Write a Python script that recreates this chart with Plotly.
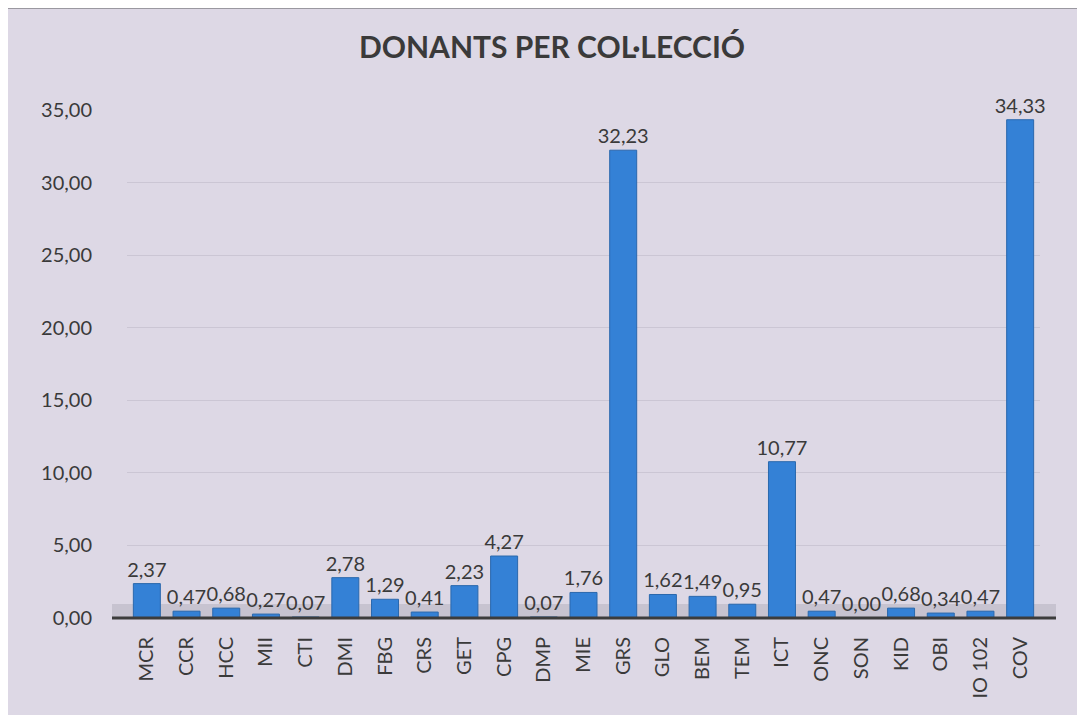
import plotly.graph_objects as go

categories = ["MCR", "CCR", "HCC", "MII", "CTI", "DMI", "FBG", "CRS", "GET", "CPG",
              "DMP", "MIE", "GRS", "GLO", "BEM", "TEM", "ICT", "ONC", "SON", "KID",
              "OBI", "IO 102", "COV"]
values = [2.37, 0.47, 0.68, 0.27, 0.07, 2.78, 1.29, 0.41, 2.23, 4.27,
          0.07, 1.76, 32.23, 1.62, 1.49, 0.95, 10.77, 0.47, 0.00, 0.68,
          0.34, 0.47, 34.33]
y_ticks = [0, 5, 10, 15, 20, 25, 30, 35]
title_text = "DONANTS PER COL·LECCIÓ"

# the page body has an 8px margin; figure covers reference pixels 8..1085 / 8..715
OFF = 8
W, H = 1085 - OFF, 715 - OFF
L, R, T, B = 127 - OFF, 1085 - 1040, 110 - OFF, 715 - 618
pw, ph = W - L - R, H - T - B

def px(xr):  # reference pixel x -> paper x
    return (xr - OFF - L) / pw

def py(yr):  # reference pixel y -> paper y
    return (H - B - (yr - OFF)) / ph

FONT = "Lato, 'Open Sans', sans-serif"
TXT = "#3a3a3a"

fig = go.Figure(go.Bar(
    x=categories, y=values,
    marker=dict(color="#3481d6", line=dict(color="#2a68ad", width=1)),
    texttemplate="%{y:.2f}", textposition="outside", constraintext="none",
    textfont=dict(family=FONT, size=20, color=TXT),
    cliponaxis=False,
))

shapes = [
    # background panel with frame
    dict(type="rect", xref="paper", yref="paper", x0=px(7), x1=px(1095),
         y0=py(725), y1=py(8), fillcolor="#ddd8e5",
         line=dict(color="#9a98a0", width=2), layer="below"),
    # floor strip
    dict(type="rect", xref="paper", yref="paper", x0=px(112), x1=px(1056),
         y0=py(617), y1=py(604), fillcolor="rgba(150,145,160,0.30)",
         line=dict(width=0), layer="below"),
    # axis line
    dict(type="line", xref="paper", yref="paper", x0=px(112), x1=px(1056),
         y0=py(618), y1=py(618), line=dict(color="#3c3c3c", width=3)),
]

fig.update_layout(
    width=W, height=H,
    margin=dict(l=L, r=R, t=T, b=B, pad=0),
    paper_bgcolor="white", plot_bgcolor="rgba(0,0,0,0)",
    separators=",.",
    title=dict(text="<b>" + title_text + "</b>", xref="container", x=(552 - OFF) / W,
               xanchor="center", yref="container", y=1 - (47 - OFF) / H, yanchor="middle",
               font=dict(family=FONT, size=30, color=TXT)),
    bargap=0.32,
    showlegend=False,
    shapes=shapes,
    xaxis=dict(tickangle=-90, tickfont=dict(family=FONT, size=20, color=TXT),
               showline=False, ticks="", showgrid=False, ticklabelstandoff=14),
    yaxis=dict(range=[0, 35], tickvals=y_ticks, tickformat=".2f",
               tickfont=dict(family=FONT, size=20, color=TXT),
               showgrid=True, gridcolor="rgba(170,165,180,0.35)", gridwidth=1,
               zeroline=False, showline=False, ticks="", ticklabelstandoff=34),
)

fig.write_html("out.html")
